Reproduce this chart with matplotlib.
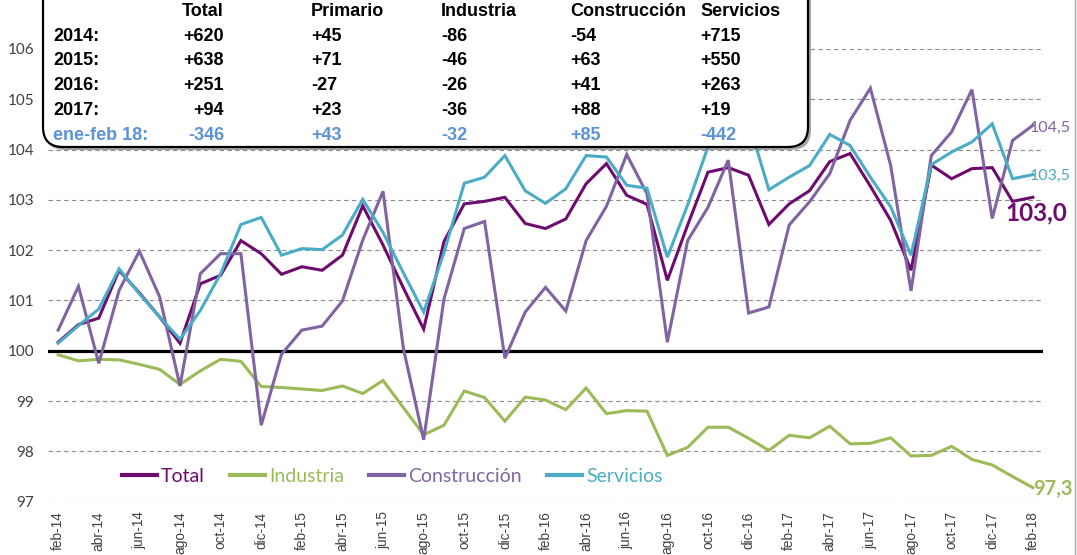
import matplotlib
matplotlib.use("Agg")
import matplotlib.pyplot as plt
from matplotlib.patches import FancyBboxPatch
from matplotlib.lines import Line2D

# ---------------- data ----------------
months_es = ['ene', 'feb', 'mar', 'abr', 'may', 'jun', 'jul', 'ago', 'sep', 'oct', 'nov', 'dic']
categories = [f"{months_es[(1 + k) % 12]}-{14 + (1 + k) // 12}" for k in range(49)]  # feb-14 .. feb-18

total = [100.17, 100.52, 100.65, 101.60, 101.15, 100.67, 100.15, 101.33, 101.50, 102.19,
         101.93, 101.52, 101.67, 101.60, 101.90, 102.88, 102.10, 101.25, 100.43, 102.17,
         102.92, 102.97, 103.05, 102.53, 102.43, 102.62, 103.32, 103.72, 103.09, 102.91,
         101.40, 102.50, 103.55, 103.64, 103.49, 102.51, 102.92, 103.18, 103.76, 103.92,
         103.27, 102.59, 101.60, 103.69, 103.42, 103.62, 103.64, 102.97, 103.05]

industria = [99.92, 99.80, 99.83, 99.82, 99.73, 99.63, 99.33, 99.60, 99.83, 99.79,
             99.29, 99.27, 99.24, 99.21, 99.30, 99.15, 99.41, 98.87, 98.33, 98.52,
             99.20, 99.07, 98.60, 99.08, 99.02, 98.83, 99.26, 98.75, 98.81, 98.80,
             97.92, 98.08, 98.48, 98.48, 98.26, 98.02, 98.32, 98.27, 98.50, 98.15,
             98.16, 98.27, 97.91, 97.92, 98.10, 97.84, 97.73, 97.50, 97.28]

construccion = [100.41, 101.28, 99.75, 101.20, 101.98, 101.07, 99.30, 101.53, 101.93, 101.93,
                98.52, 99.93, 100.41, 100.49, 100.99, 102.20, 103.17, 100.05, 98.23, 101.03,
                102.43, 102.57, 99.85, 100.77, 101.26, 100.79, 102.19, 102.87, 103.90, 103.12,
                100.17, 102.19, 102.85, 103.79, 100.75, 100.87, 102.50, 102.96, 103.52, 104.58,
                105.22, 103.68, 101.19, 103.88, 104.35, 105.19, 102.63, 104.18, 104.48]

servicios = [100.15, 100.50, 100.83, 101.63, 101.13, 100.67, 100.23, 100.80, 101.53, 102.51,
             102.65, 101.90, 102.03, 102.01, 102.30, 103.01, 102.35, 101.55, 100.77, 101.95,
             103.33, 103.45, 103.88, 103.18, 102.93, 103.22, 103.88, 103.85, 103.29, 103.23,
             101.86, 102.90, 104.05, 104.30, 104.55, 103.20, 103.45, 103.68, 104.30, 104.08,
             103.45, 102.86, 101.90, 103.70, 103.95, 104.15, 104.51, 103.42, 103.50]

series_names = ['Total', 'Industria', 'Construcción', 'Servicios']
end_labels = ['103,0', '97,3', '104,5', '103,5']

table_cols = ['Total', 'Primario', 'Industria', 'Construcción', 'Servicios']
table_rows = ['2014:', '2015:', '2016:', '2017:', 'ene-feb 18:']
table_vals = [['+620', '+45', '-86', '-54', '+715'],
              ['+638', '+71', '-46', '+63', '+550'],
              ['+251', '-27', '-26', '+41', '+263'],
              ['+94', '+23', '-36', '+88', '+19'],
              ['-346', '+43', '-32', '+85', '-442']]

# ---------------- style ----------------
colors = ['#6E0B6E', '#9BBB59', '#8064A2', '#4BACC6']
blue_txt = '#5B93D8'
W, H = 1077, 555

fig = plt.figure(figsize=(W / 100, H / 100), dpi=100)
ax = fig.add_axes([48 / W, (H - 501.7) / H, 995 / W, (501.7 - 48.9) / H])

x = list(range(len(categories)))
ax.set_xlim(-0.5, len(categories) - 0.5)
ax.set_ylim(97, 106)

ax.set_yticks(range(97, 107))
ax.grid(axis='y', color='#8C8C8C', lw=0.8, ls=(0, (4, 3)), zorder=0)
ax.axhline(100, color='black', lw=2.3, zorder=2)
for s in ax.spines.values():
    s.set_visible(False)

data = [total, industria, construccion, servicios]
for vals, c in zip(data, colors):
    ax.plot(x, vals, color=c, lw=2.2, zorder=3, solid_joinstyle='miter')

ax.set_xticks(x[::2])
ax.set_xticklabels(categories[::2], rotation=90, fontsize=9.8, family='Liberation Sans', color='#404040')
ax.tick_params(axis='x', length=0, pad=7)
ax.tick_params(axis='y', length=0, pad=10, labelsize=11, labelcolor='#404040')
for t in ax.get_yticklabels():
    t.set_family('Lato')

# end labels
ax.annotate(end_labels[0], (x[-1], total[-1]), xytext=(-27, -16), textcoords='offset pixels',
            ha='left', va='center', fontsize=17.5, fontweight='bold', color=colors[0], family='Lato',
            annotation_clip=False)
ax.annotate(end_labels[1], (x[-1], industria[-1]), xytext=(0, -1), textcoords='offset pixels',
            ha='left', va='center', fontsize=14.5, fontweight='bold', color=colors[1], family='Lato',
            annotation_clip=False)
ax.annotate(end_labels[2], (x[-1], construccion[-1]), xytext=(-3, -3), textcoords='offset pixels',
            ha='left', va='center', fontsize=11.5, color=colors[2], family='Lato',
            annotation_clip=False)
ax.annotate(end_labels[3], (x[-1], servicios[-1]), xytext=(-3, -1), textcoords='offset pixels',
            ha='left', va='center', fontsize=11.5, color=colors[3], family='Lato',
            annotation_clip=False)

# legend
handles = [Line2D([], [], color=c, lw=3) for c in colors]
leg = fig.legend(handles, series_names, loc='center left', bbox_to_anchor=(122 / W, 1 - 476 / H),
                 ncol=4, frameon=False, borderpad=0, borderaxespad=0, handlelength=1.8,
                 handletextpad=0.2, columnspacing=1.3,
                 prop={'family': 'Lato', 'size': 14})
for t, c in zip(leg.get_texts(), colors):
    t.set_color(c)

# ---------------- overlay: table box ----------------
ov = fig.add_axes([0, 0, 1, 1], zorder=10)
ov.set_xlim(0, W)
ov.set_ylim(H, 0)
ov.axis('off')

shadow = FancyBboxPatch((45, -30), 766, 180, boxstyle='round,pad=0,rounding_size=20',
                        fc='#7F7F7F', ec='none', alpha=0.7)
ov.add_patch(shadow)
box = FancyBboxPatch((43, -30), 765, 177, boxstyle='round,pad=0,rounding_size=20',
                     fc='white', ec='black', lw=1.6)
ov.add_patch(box)

baselines = [16, 40.7, 65.4, 90.1, 114.8, 139.5]
col_x = [224, 311, 441, 570, 700]
col_ha = ['right', 'left', 'left', 'left', 'left']
tfont = dict(family='Liberation Sans', fontweight='bold', fontsize=13, va='baseline')

for cx, ha, name in zip(col_x, col_ha, table_cols):
    ov.text(cx, baselines[0], name, ha=ha, color='black', **tfont)
for r, (rname, rvals) in enumerate(zip(table_rows, table_vals)):
    col = blue_txt if r == len(table_rows) - 1 else 'black'
    by = baselines[r + 1]
    ov.text(53, by, rname, ha='left', color=col, **tfont)
    for cx, ha, v in zip(col_x, col_ha, rvals):
        ov.text(cx, by, v, ha=ha, color=col, **tfont)

# figure right border
ov.plot([1075, 1075], [0, H], color='#A6A6A6', lw=1)

fig.savefig('out.png', dpi=100)
